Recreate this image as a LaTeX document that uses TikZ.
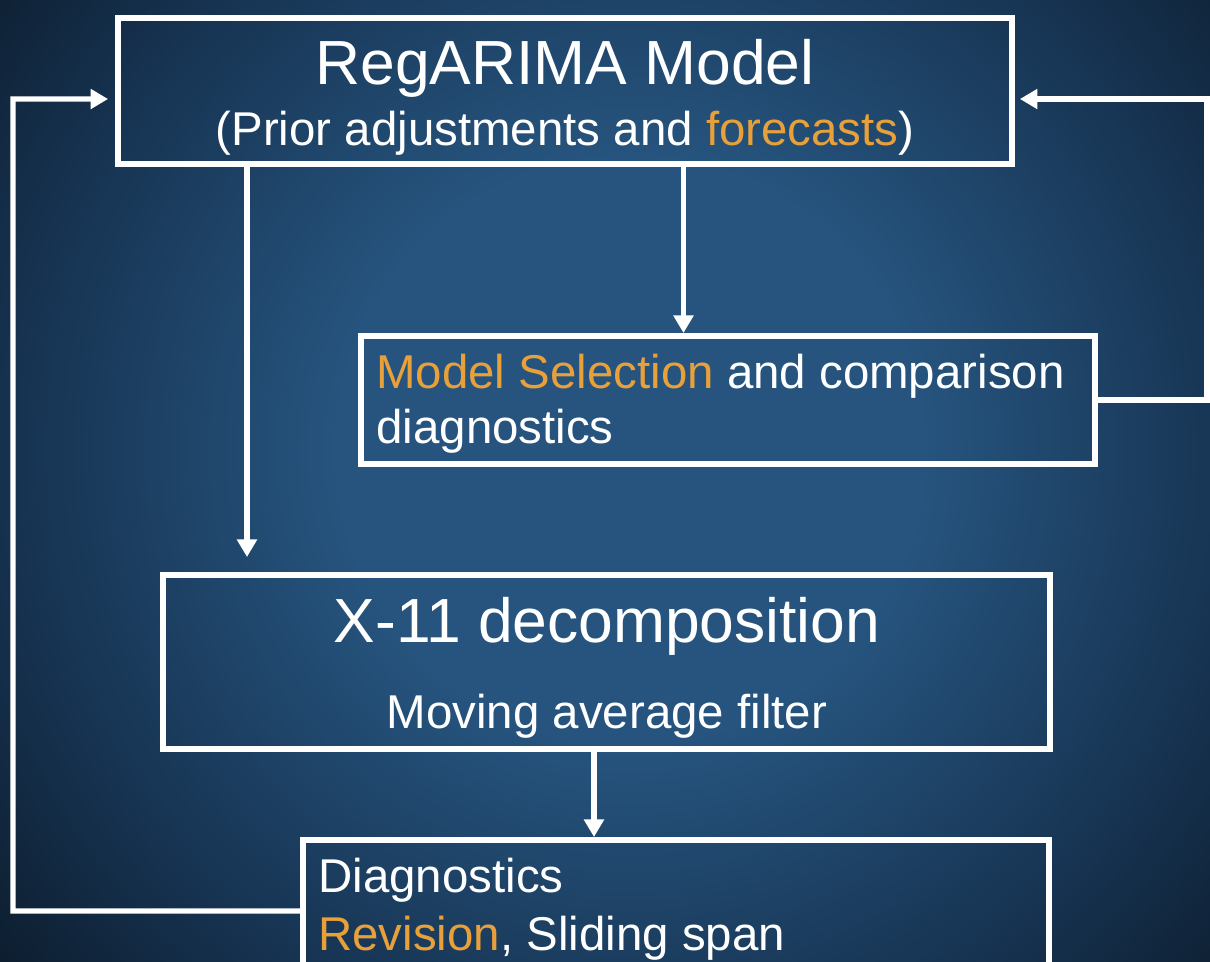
\documentclass[tikz,border=0pt]{standalone}
\usepackage{fontspec}
\setmainfont{Liberation Sans}
\usetikzlibrary{arrows.meta}
\definecolor{bgin}{RGB}{38,84,126}
\definecolor{bgmid}{RGB}{22,50,80}
\definecolor{bgout}{RGB}{9,20,31}
\definecolor{accent}{RGB}{232,160,58}
\pgfdeclareradialshading{bgshade}{\pgfpoint{0bp}{0bp}}{color(0bp)=(bgin); color(8.7bp)=(bgin); color(18.4bp)=(bgmid); color(27bp)=(bgout); color(50bp)=(bgout)}
\tikzset{
  box/.style={draw=white, line width=3.4pt, inner sep=0pt, outer sep=0pt},
  conn/.style={draw=white, line width=3.1pt, -{Triangle[length=10pt,width=11pt]}},
  big/.style={text=white, font=\fontsize{35.5pt}{40pt}\selectfont, inner sep=0pt},
  mid/.style={text=white, font=\fontsize{27pt}{31pt}\selectfont, inner sep=0pt},
}
\begin{document}
\begin{tikzpicture}[x=0.02cm,y=-0.02cm]
\useasboundingbox (0,0) rectangle (1210,961);
\clip (0,0) rectangle (1210,961);
\fill[bgout] (0,0) rectangle (1210,961);
\shade[shading=bgshade] (630,450) circle [radius=16.8cm];
% boxes
\node[box, minimum width=17.88cm, minimum height=2.92cm] (A) at (565,91) {};
\node[box, minimum width=14.68cm, minimum height=2.56cm] (B) at (728,400) {};
\node[box, minimum width=17.74cm, minimum height=3.48cm] (C) at (606.5,662) {};
\node[box, minimum width=14.92cm, minimum height=3.2cm] (D) at (676,920) {};
% texts
\node[big, anchor=base] (ta) at (565,84) {RegARIMA Model};
\node[mid, anchor=base] (tb) at (565,145) {(Prior adjustments and \textcolor{accent}{forecasts})};
\node[mid, anchor=base west] (tc) at (376,388) {\textcolor{accent}{Model Selection} and comparison};
\node[mid, anchor=base west] (td) at (376,443) {diagnostics};
\node[big, anchor=base] (te) at (607,642) {X-11 decomposition};
\node[mid, anchor=base] (tf) at (607,728) {Moving average filter};
\node[mid, anchor=base west] (tg) at (318,892) {Diagnostics};
\node[mid, anchor=base west] (th) at (318,950) {\textcolor{accent}{Revision}, Sliding span};
% helper coordinates
\coordinate (xa) at (247,0);
\coordinate (xb) at (683.5,0);
\coordinate (xc) at (594,0);
\coordinate (lb) at (13,911);
\coordinate (rb) at (1207,400);
\coordinate (yt) at (0,99);
% connectors
\draw[conn] (xa |- A.south) -- ([yshift=0.36cm]xa |- C.north);
\draw[conn] (xb |- A.south) -- ([yshift=0.06cm]xb |- B.north);
\draw[conn] (xc |- C.south) -- ([yshift=0.06cm]xc |- D.north);
\draw[conn] ([yshift=0.18cm]D.west) -- (lb) |- ([xshift=-0.2cm]A.west |- yt);
\draw[conn] (B.east) -- (rb) |- ([xshift=0.16cm]A.east |- yt);
\end{tikzpicture}
\end{document}
